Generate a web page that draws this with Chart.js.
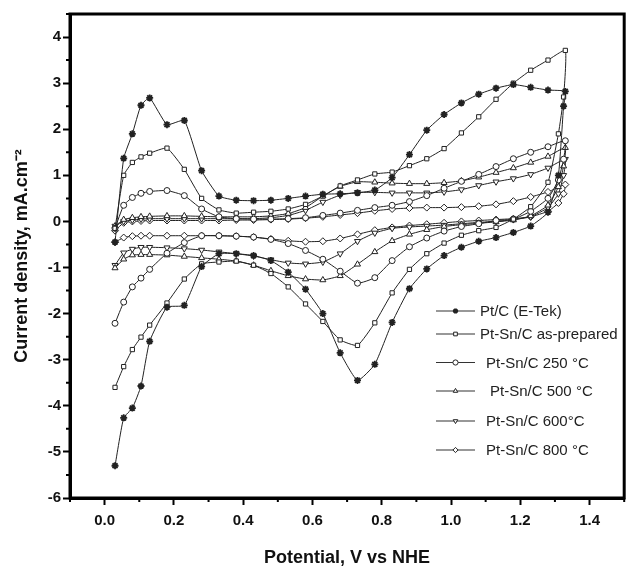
<!DOCTYPE html>
<html>
<head>
<meta charset="utf-8">
<script src="https://cdn.jsdelivr.net/npm/chart.js@4.4.1/dist/chart.umd.min.js"></script>
<style>
  html, body { margin: 0; padding: 0; background: #fff; }
</style>
</head>
<body>
<canvas id="cvChart" width="630" height="569"></canvas>
<script>
// potential grid of the forward (anodic) and backward (cathodic) scans, V vs NHE
const anodicV = [0.03, 0.055, 0.08, 0.105, 0.13, 0.18, 0.23, 0.28, 0.33, 0.38, 0.43, 0.48, 0.53, 0.58, 0.63, 0.68, 0.73, 0.78, 0.83, 0.88, 0.93, 0.98, 1.03, 1.08, 1.13, 1.18, 1.23, 1.28, 1.33];
const cathodicV = [1.325, 1.31, 1.28, 1.23, 1.18, 1.13, 1.08, 1.03, 0.98, 0.93, 0.88, 0.83, 0.78, 0.73, 0.68, 0.63, 0.58, 0.53, 0.48, 0.43, 0.38, 0.33, 0.28, 0.23, 0.18, 0.13, 0.105, 0.08, 0.055, 0.03];

// current density, mA/cm2
const ptcAnodic = [-0.45, 1.37, 1.9, 2.52, 2.68, 2.1, 2.19, 1.1, 0.55, 0.46, 0.45, 0.46, 0.5, 0.55, 0.59, 0.6, 0.62, 0.68, 0.95, 1.45, 1.98, 2.32, 2.57, 2.76, 2.89, 2.97, 2.91, 2.85, 2.82];
const ptcCathodic = [2.5, 1.0, 0.2, -0.1, -0.24, -0.35, -0.43, -0.56, -0.74, -1.03, -1.46, -2.19, -3.1, -3.45, -2.85, -2.0, -1.47, -1.1, -0.85, -0.74, -0.7, -0.7, -0.98, -1.82, -1.86, -2.6, -3.57, -4.05, -4.26, -5.3];

const asPrepAnodic = [-0.15, 1.0, 1.28, 1.4, 1.48, 1.59, 1.13, 0.5, 0.25, 0.18, 0.2, 0.22, 0.27, 0.37, 0.55, 0.77, 0.9, 1.03, 1.07, 1.21, 1.36, 1.58, 1.92, 2.27, 2.65, 3.0, 3.28, 3.5, 3.71];
const asPrepCathodic = [2.7, 1.9, 0.85, 0.32, 0.05, -0.13, -0.2, -0.3, -0.47, -0.7, -1.04, -1.55, -2.2, -2.69, -2.57, -2.17, -1.79, -1.42, -1.13, -0.95, -0.86, -0.88, -0.92, -1.25, -1.77, -2.25, -2.51, -2.78, -3.15, -3.6];

const sn250Anodic = [-0.15, 0.35, 0.52, 0.61, 0.65, 0.67, 0.56, 0.27, 0.1, 0.06, 0.05, 0.05, 0.06, 0.08, 0.13, 0.18, 0.24, 0.3, 0.35, 0.43, 0.56, 0.72, 0.87, 1.02, 1.19, 1.36, 1.5, 1.62, 1.75];
const sn250Cathodic = [1.35, 0.9, 0.5, 0.22, 0.05, 0.02, -0.05, -0.11, -0.21, -0.36, -0.55, -0.85, -1.22, -1.34, -1.08, -0.82, -0.63, -0.48, -0.39, -0.34, -0.32, -0.31, -0.31, -0.46, -0.69, -1.04, -1.23, -1.42, -1.75, -2.21];

const sn500Anodic = [-0.1, 0.04, 0.08, 0.1, 0.11, 0.12, 0.12, 0.11, 0.1, 0.1, 0.1, 0.12, 0.17, 0.3, 0.55, 0.76, 0.86, 0.85, 0.83, 0.82, 0.82, 0.84, 0.88, 0.96, 1.06, 1.16, 1.28, 1.41, 1.6];
const sn500Cathodic = [1.2, 0.75, 0.35, 0.12, 0.03, -0.01, -0.04, -0.07, -0.11, -0.18, -0.28, -0.42, -0.66, -0.93, -1.18, -1.27, -1.25, -1.18, -1.07, -0.95, -0.86, -0.82, -0.79, -0.76, -0.73, -0.72, -0.72, -0.73, -0.82, -1.01];

const sn600Anodic = [-0.1, 0.0, 0.03, 0.05, 0.06, 0.06, 0.06, 0.06, 0.06, 0.06, 0.06, 0.08, 0.13, 0.24, 0.42, 0.57, 0.63, 0.63, 0.62, 0.62, 0.62, 0.64, 0.69, 0.78, 0.86, 0.93, 1.02, 1.16, 1.35];
const sn600Cathodic = [1.0, 0.6, 0.3, 0.1, 0.04, 0.0, -0.02, -0.05, -0.08, -0.1, -0.12, -0.15, -0.25, -0.43, -0.7, -0.88, -0.92, -0.9, -0.83, -0.75, -0.7, -0.66, -0.62, -0.59, -0.57, -0.56, -0.56, -0.6, -0.68, -0.95];

const sn800Anodic = [-0.2, -0.03, 0.0, 0.01, 0.02, 0.02, 0.02, 0.02, 0.02, 0.03, 0.03, 0.04, 0.05, 0.07, 0.1, 0.14, 0.18, 0.23, 0.27, 0.29, 0.3, 0.3, 0.31, 0.33, 0.37, 0.44, 0.53, 0.64, 0.8];
const sn800Cathodic = [0.6, 0.4, 0.22, 0.1, 0.06, 0.04, 0.02, 0.0, -0.03, -0.06, -0.09, -0.13, -0.19, -0.28, -0.37, -0.43, -0.44, -0.42, -0.38, -0.34, -0.32, -0.31, -0.31, -0.31, -0.31, -0.31, -0.31, -0.32, -0.35, -0.45];

const seriesNames = ["Pt/C (E-Tek)", "Pt-Sn/C as-prepared", "Pt-Sn/C 250 \u00B0C", "Pt-Sn/C 500 \u00B0C", "Pt-Sn/C 600\u00B0C", "Pt-Sn/C 800 \u00B0C"];

const xTicks = [0.0, 0.2, 0.4, 0.6, 0.8, 1.0, 1.2, 1.4];
const xMinor = [-0.1, 0.1, 0.3, 0.5, 0.7, 0.9, 1.1, 1.3, 1.5];
const yTicks = [-6, -5, -4, -3, -2, -1, 0, 1, 2, 3, 4];
const yMinor = [-5.5, -4.5, -3.5, -2.5, -1.5, -0.5, 0.5, 1.5, 2.5, 3.5, 4.5];

Chart.defaults.font.family = "'Liberation Sans', Arial, sans-serif";

// forward scan followed by the reverse scan, as one open loop
function loop(anodic, cathodic) {
  const pts = anodicV.map((v, i) => ({ x: v, y: anodic[i] }));
  return pts.concat(cathodicV.map((v, i) => ({ x: v, y: cathodic[i] })));
}

const markerStyles = [
  { pointStyle: "star", radius: 3.5, fill: "#111", width: 1.8, rot: 0 },
  { pointStyle: "rect", radius: 3, fill: "#fff", width: 1, rot: 0 },
  { pointStyle: "circle", radius: 3, fill: "#fff", width: 1, rot: 0 },
  { pointStyle: "triangle", radius: 3.5, fill: "#fff", width: 1, rot: 0 },
  { pointStyle: "triangle", radius: 3.5, fill: "#fff", width: 1, rot: 180 },
  { pointStyle: "rectRot", radius: 3.5, fill: "#fff", width: 1, rot: 0 },
];

const loops = [
  loop(ptcAnodic, ptcCathodic),
  loop(asPrepAnodic, asPrepCathodic),
  loop(sn250Anodic, sn250Cathodic),
  loop(sn500Anodic, sn500Cathodic),
  loop(sn600Anodic, sn600Cathodic),
  loop(sn800Anodic, sn800Cathodic),
];

const datasets = loops.map((pts, i) => ({
  label: seriesNames[i],
  data: pts,
  showLine: true,
  borderColor: "#222",
  borderWidth: 1,
  tension: 0.15,
  pointStyle: markerStyles[i].pointStyle,
  pointRadius: markerStyles[i].radius,
  pointRotation: markerStyles[i].rot,
  pointBackgroundColor: markerStyles[i].fill,
  pointBorderColor: "#222",
  pointBorderWidth: markerStyles[i].width,
}));

// minor ticks and the closed box round the plot
const frameAndMinor = {
  id: "frameAndMinor",
  afterDraw(chart) {
    const { ctx, chartArea: a, scales } = chart;
    ctx.save();
    ctx.strokeStyle = "#000";
    ctx.lineWidth = 2;
    ctx.beginPath();
    xMinor.forEach((v) => {
      const px = scales.x.getPixelForValue(v);
      ctx.moveTo(px, a.bottom);
      ctx.lineTo(px, a.bottom + 4);
    });
    yMinor.forEach((v) => {
      const py = scales.y.getPixelForValue(v);
      ctx.moveTo(a.left, py);
      ctx.lineTo(a.left - 4, py);
    });
    ctx.stroke();
    ctx.lineWidth = 3;
    ctx.strokeRect(a.left, a.top, a.right - a.left, a.bottom - a.top);
    ctx.restore();
  },
};

// legend drawn inside the plot, lower right
const insideLegend = {
  id: "insideLegend",
  afterDraw(chart) {
    const ctx = chart.ctx;
    const rows = [311, 334, 362.5, 391, 421, 450];
    const textX = [480, 480, 486, 490, 486, 486];
    chart.data.datasets.forEach((ds, i) => {
      const yy = rows[i];
      ctx.save();
      ctx.strokeStyle = "#333";
      ctx.lineWidth = 1.2;
      ctx.beginPath();
      ctx.moveTo(436, yy);
      ctx.lineTo(475, yy);
      ctx.stroke();
      ctx.fillStyle = ds.pointBackgroundColor;
      ctx.strokeStyle = ds.pointBorderColor;
      ctx.lineWidth = ds.pointBorderWidth;
      Chart.helpers.drawPoint(ctx, {
        pointStyle: ds.pointStyle,
        rotation: ds.pointRotation,
        radius: 2.6,
        borderWidth: ds.pointBorderWidth,
      }, 455.5, yy);
      ctx.fillStyle = "#222";
      ctx.font = "15px 'Liberation Sans', Arial, sans-serif";
      ctx.textBaseline = "middle";
      ctx.fillText(seriesNames[i], textX[i], yy + 1);
      ctx.restore();
    });
  },
};

const tickFont = { size: 15, weight: "bold" };

new Chart(document.getElementById("cvChart"), {
  type: "scatter",
  data: { datasets: datasets },
  options: {
    responsive: false,
    devicePixelRatio: 1,
    animation: false,
    layout: { padding: { top: 14, right: 3, left: 0, bottom: 0 } },
    plugins: { legend: { display: false }, tooltip: { enabled: false } },
    scales: {
      x: {
        type: "linear",
        min: -0.1,
        max: 1.5,
        afterBuildTicks: (axis) => { axis.ticks = xTicks.map((v) => ({ value: v })); },
        afterFit: (s) => { s.height = 71; },
        ticks: {
          font: tickFont,
          color: "#111",
          padding: 7,
          maxRotation: 0,
          autoSkip: false,
          callback: (v) => Number(v).toFixed(1),
        },
        grid: { drawOnChartArea: false, drawTicks: true, tickLength: 7, tickWidth: 2, tickColor: "#000" },
        border: { display: true, width: 3, color: "#000" },
        title: {
          display: true,
          text: "Potential, V vs NHE",
          color: "#111",
          font: { size: 18, weight: "bold" },
          padding: { top: 4, bottom: 0 },
        },
      },
      y: {
        type: "linear",
        min: -6,
        max: 4.5,
        afterBuildTicks: (axis) => { axis.ticks = yTicks.map((v) => ({ value: v })); },
        afterFit: (s) => { s.width = 70; },
        ticks: {
          font: tickFont,
          color: "#111",
          padding: 2,
          autoSkip: false,
          callback: (v) => String(v),
        },
        grid: { drawOnChartArea: false, drawTicks: true, tickLength: 7, tickWidth: 2, tickColor: "#000" },
        border: { display: true, width: 3, color: "#000" },
        title: {
          display: true,
          text: "Current density, mA.cm\u207B\u00B2",
          color: "#111",
          font: { size: 18, weight: "bold" },
          padding: { top: 11, bottom: 0 },
        },
      },
    },
  },
  plugins: [frameAndMinor, insideLegend],
});
</script>
</body>
</html>
